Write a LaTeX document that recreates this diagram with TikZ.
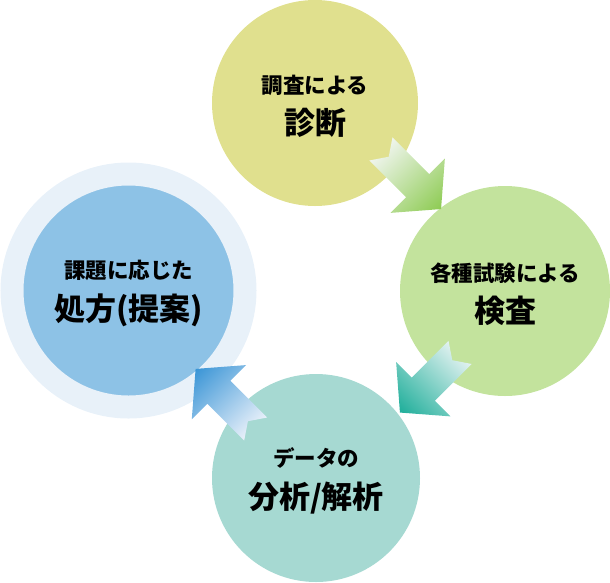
\documentclass[tikz,border=0pt]{standalone}
\usepackage{fontspec}
\newfontfamily\jp{Noto Sans CJK JP}
\usepackage{tikz}
\usetikzlibrary{calc}

\definecolor{diagfill}{HTML}{E0E08E}
\definecolor{inspfill}{HTML}{C3E39D}
\definecolor{analfill}{HTML}{A6D9D2}
\definecolor{planfill}{HTML}{8DC2E6}
\definecolor{planhalo}{HTML}{E8F1F9}
\definecolor{greenlight}{HTML}{F0F5EE}
\definecolor{greendark}{HTML}{8DCB52}
\definecolor{teallight}{HTML}{E3F2F1}
\definecolor{tealdark}{HTML}{1EAE9A}
\definecolor{bluelight}{HTML}{EAF1FA}
\definecolor{bluedark}{HTML}{3A95D6}

\newcommand{\subtxt}[1]{{\fontsize{21.5pt}{21.5pt}\selectfont\rule{0pt}{25pt}#1}}
\newcommand{\maintxt}[1]{{\fontsize{31pt}{31pt}\selectfont #1}}

% block arrow: centre, angle, tail colour, tip colour
\newcommand{\flowarrow}[4]{%
  \shade[transform canvas={shift={#1},rotate=#2}, left color=#3, right color=#4]
    (-42.5,16.3) -- (9.5,16.3) -- (9.5,38.4) -- (42.5,0) -- (9.5,-38.4)
    -- (9.5,-16.3) -- (-42.5,-16.3) -- (-31.5,0) -- cycle;}

\begin{document}
\begin{tikzpicture}[x=1pt, y=-1pt,
    stage/.style={circle, inner sep=0pt, minimum size=#1, align=center,
      font=\jp\bfseries, text=black}]
    \useasboundingbox (0,0) rectangle (610,582);

    % the four stages
    \node[stage=206pt, fill=diagfill] (diag) at (315,103)
        {\subtxt{調査による}\\[12pt]\maintxt{診断}};
    \node[stage=210pt, fill=inspfill] (insp) at (505,291)
        {\subtxt{各種試験による}\\[12pt]\maintxt{検査}};
    \node[stage=208pt, fill=analfill] (anal) at (316,478)
        {\subtxt{データの}\\[12pt]\maintxt{分析/解析}};
    \node[stage=233pt, fill=planfill, draw=planhalo, line width=23pt] (plan) at (128.5,290.5)
        {\subtxt{課題に応じた}\\[12pt]\maintxt{処方(提案)}};

    % arrows between them
    \coordinate (a1) at ($(diag)!.5!(insp)+(1,-18)$);
    \coordinate (a2) at ($(insp)!.5!(anal)+(19.5,-2)$);
    \coordinate (a3) at ($(anal)!.5!(plan)+(3.4,14.7)$);
    \flowarrow{(a1)}{-45}{greenlight}{greendark}
    \flowarrow{(a2)}{-135}{teallight}{tealdark}
    \flowarrow{(a3)}{135}{bluelight}{bluedark}
\end{tikzpicture}
\end{document}
